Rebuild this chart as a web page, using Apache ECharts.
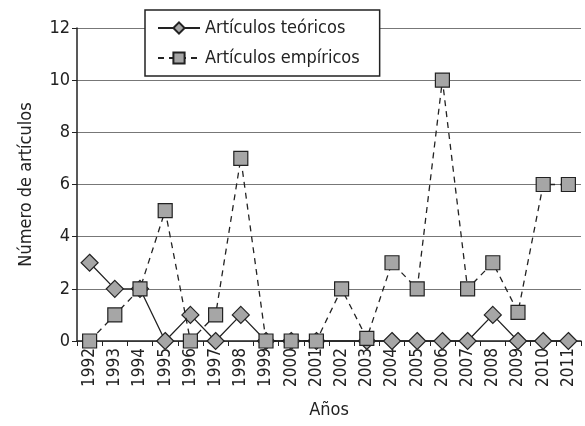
<!DOCTYPE html>
<html>
<head>
<meta charset="utf-8">
<script src="https://cdn.jsdelivr.net/npm/echarts@6/dist/echarts.min.js"></script>
<style>
html, body { margin: 0; padding: 0; background: #fff; }
#chart { width: 585px; height: 426px; }
</style>
</head>
<body>
<div id="chart"></div>
<script>
var years = ['1992', '1993', '1994', '1995', '1996', '1997', '1998', '1999', '2000', '2001',
	'2002', '2003', '2004', '2005', '2006', '2007', '2008', '2009', '2010', '2011'];
var teoricos = [3, 2, 2, 0, 1, 0, 1, 0, 0, 0, null, 0, 0, 0, 0, 0, 1, 0, 0, 0];
var empiricos = [0, 1, 2, 5, 0, 1, 7, 0, 0, 0, 2, 0.1, 3, 2, 10, 2, 3, 1.1, 6, 6];

var font = "'Liberation Sans Narrow', 'DejaVu Sans Condensed', sans-serif";
var chart = echarts.init(document.getElementById('chart'));
chart.setOption({
	animation: false,
	textStyle: { fontFamily: font },
	grid: { left: 77, right: 4, top: 28, bottom: 85 },
	legend: {
		left: 145,
		top: 10,
		orient: 'vertical',
		backgroundColor: '#fff',
		borderColor: '#222',
		borderWidth: 1.5,
		borderRadius: 0,
		padding: [9, 20, 9, 12],
		itemGap: 12,
		itemWidth: 42,
		itemHeight: 14,
		textStyle: { fontFamily: font, fontSize: 18, color: '#222' },
		data: ['Artículos teóricos', 'Artículos empíricos']
	},
	xAxis: {
		type: 'category',
		data: years,
		boundaryGap: true,
		name: 'Años',
		nameLocation: 'middle',
		nameGap: 60,
		nameTextStyle: { fontSize: 18, color: '#222' },
		axisLine: { lineStyle: { color: '#222', width: 1.5 } },
		axisTick: { show: true, length: 5, inside: false, lineStyle: { color: '#222' } },
		axisLabel: { rotate: 90, fontSize: 17, color: '#222', margin: 7 }
	},
	yAxis: {
		type: 'value',
		min: 0,
		max: 12,
		interval: 2,
		name: 'Número de artículos',
		nameLocation: 'middle',
		nameGap: 42,
		nameTextStyle: { fontSize: 18, color: '#222' },
		axisLine: { show: true, lineStyle: { color: '#222', width: 1.5 } },
		axisTick: { show: true, length: 5, lineStyle: { color: '#222' } },
		axisLabel: { fontSize: 18, color: '#222', margin: 7 },
		splitLine: { lineStyle: { color: '#777', width: 1.2 } }
	},
	series: [
		{
			name: 'Artículos teóricos',
			type: 'line',
			data: teoricos,
			connectNulls: true,
			symbol: 'diamond',
			symbolSize: 17,
			lineStyle: { color: '#222', width: 1.3 },
			itemStyle: { color: '#a6a6a6', borderColor: '#222', borderWidth: 1.2 },
			z: 3
		},
		{
			name: 'Artículos empíricos',
			type: 'line',
			data: empiricos,
			symbol: 'rect',
			symbolSize: 14,
			lineStyle: { color: '#222', width: 1.3, type: [6, 5] },
			itemStyle: { color: '#a6a6a6', borderColor: '#222', borderWidth: 1.2 },
			z: 4
		}
	]
});
</script>
</body>
</html>
